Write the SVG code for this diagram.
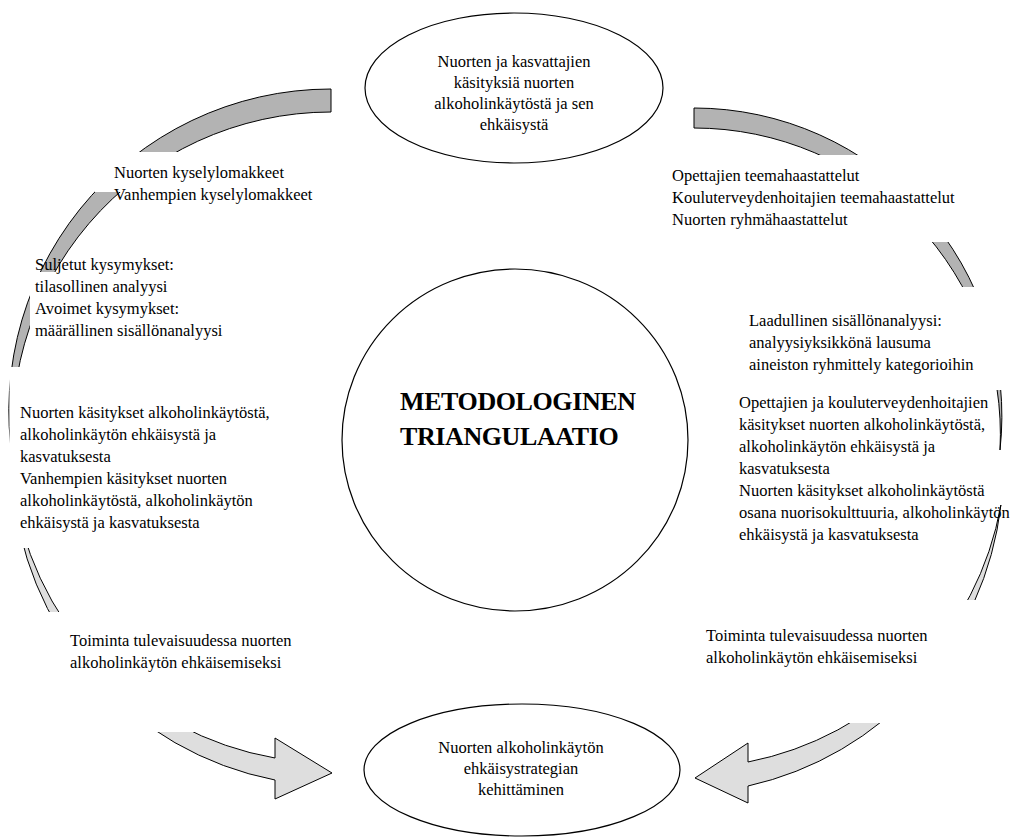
<svg xmlns="http://www.w3.org/2000/svg" width="1021" height="840" viewBox="0 0 1021 840">
<style>
.t{font-family:"Liberation Serif","Times New Roman",serif;font-size:16.5px;fill:#000}
.c{text-anchor:middle}
.title{font-family:"Liberation Serif","Times New Roman",serif;font-size:26px;font-weight:bold;fill:#000;letter-spacing:-0.4px}
.band{fill:#b3b3b3;stroke:#000;stroke-width:1}
.arrow{fill:#dedede;stroke:#000;stroke-width:1}
.node{fill:#fff;stroke:#000;stroke-width:1.2}
.mask{fill:#fff;stroke:none}
</style>
<rect width="1021" height="840" fill="#fff"/>
<g id="connectors">
<path class="band" d="M331,89 A322,322 0 0 0 16.3,480 A318.6,318.6 0 0 1 331,112 Z"/>
<path class="band" d="M694,108 A308,308 0 0 1 1000,450 A306.4,306.4 0 0 0 694,128 Z"/>
<path class="arrow" d="M12.6,480 A325,325 0 0 0 275,780 L275,799 L332,773 L275,738 L275,758 A319,319 0 0 1 12.6,480 Z"/>
<path class="arrow" d="M1000.9,505 A326,326 0 0 1 748,786 L748,803 L695,778 L748,743 L748,762 A319.2,319.2 0 0 0 1000.9,505 Z"/>
</g>
<g id="masks">
<rect class="mask" x="95" y="152" width="250" height="40"/>
<rect class="mask" x="30" y="272" width="210" height="73"/>
<rect class="mask" x="9.5" y="367" width="320" height="181"/>
<rect class="mask" x="45" y="612" width="290" height="120"/>
<rect class="mask" x="665" y="155" width="320" height="87"/>
<rect class="mask" x="745" y="287" width="270" height="103"/>
<rect class="mask" x="735" y="390" width="255" height="120"/>
<rect class="mask" x="700" y="600" width="305" height="123"/>
</g>
<g id="node-top">
<ellipse class="node" cx="514" cy="88" rx="149" ry="75"/>
<text class="t c" x="514" y="67">Nuorten ja kasvattajien</text>
<text class="t c" x="514" y="88">käsityksiä nuorten</text>
<text class="t c" x="514" y="109">alkoholinkäytöstä ja sen</text>
<text class="t c" x="514" y="130">ehkäisystä</text>
</g>
<g id="node-center">
<ellipse class="node" cx="515" cy="440" rx="173" ry="171"/>
<text class="title" x="400" y="410">METODOLOGINEN</text>
<text class="title" x="400" y="445">TRIANGULAATIO</text>
</g>
<g id="node-bottom">
<ellipse class="node" cx="522" cy="770" rx="158" ry="66"/>
<text class="t c" x="521" y="753">Nuorten alkoholinkäytön</text>
<text class="t c" x="521" y="774">ehkäisystrategian</text>
<text class="t c" x="521" y="795">kehittäminen</text>
</g>
<g id="label-kyselyt">
<text class="t" x="114" y="178">Nuorten kyselylomakkeet</text>
<text class="t" x="114" y="200">Vanhempien kyselylomakkeet</text>
</g>
<g id="label-analyysi-left">
<text class="t" x="35" y="270">Suljetut kysymykset:</text>
<text class="t" x="35" y="292">tilasollinen analyysi</text>
<text class="t" x="35" y="314">Avoimet kysymykset:</text>
<text class="t" x="35" y="336">määrällinen sisällönanalyysi</text>
</g>
<g id="label-kasitykset-left">
<text class="t" x="20" y="418">Nuorten käsitykset alkoholinkäytöstä,</text>
<text class="t" x="20" y="440">alkoholinkäytön ehkäisystä ja</text>
<text class="t" x="20" y="462">kasvatuksesta</text>
<text class="t" x="20" y="484">Vanhempien käsitykset nuorten</text>
<text class="t" x="20" y="506">alkoholinkäytöstä, alkoholinkäytön</text>
<text class="t" x="20" y="528">ehkäisystä ja kasvatuksesta</text>
</g>
<g id="label-toiminta-left">
<text class="t" x="70" y="646">Toiminta tulevaisuudessa nuorten</text>
<text class="t" x="70" y="668">alkoholinkäytön ehkäisemiseksi</text>
</g>
<g id="label-haastattelut">
<text class="t" x="672" y="181">Opettajien teemahaastattelut</text>
<text class="t" x="672" y="203">Kouluterveydenhoitajien teemahaastattelut</text>
<text class="t" x="672" y="225">Nuorten ryhmähaastattelut</text>
</g>
<g id="label-analyysi-right">
<text class="t" x="749" y="326">Laadullinen sisällönanalyysi:</text>
<text class="t" x="749" y="348">analyysiyksikkönä lausuma</text>
<text class="t" x="749" y="370">aineiston ryhmittely kategorioihin</text>
</g>
<g id="label-kasitykset-right">
<text class="t" x="739" y="408">Opettajien ja kouluterveydenhoitajien</text>
<text class="t" x="739" y="430">käsitykset nuorten alkoholinkäytöstä,</text>
<text class="t" x="739" y="452">alkoholinkäytön ehkäisystä ja</text>
<text class="t" x="739" y="474">kasvatuksesta</text>
<text class="t" x="739" y="496">Nuorten käsitykset alkoholinkäytöstä</text>
<text class="t" x="739" y="518">osana nuorisokulttuuria, alkoholinkäytön</text>
<text class="t" x="739" y="540">ehkäisystä ja kasvatuksesta</text>
</g>
<g id="label-toiminta-right">
<text class="t" x="706" y="641">Toiminta tulevaisuudessa nuorten</text>
<text class="t" x="706" y="663">alkoholinkäytön ehkäisemiseksi</text>
</g>
</svg>
